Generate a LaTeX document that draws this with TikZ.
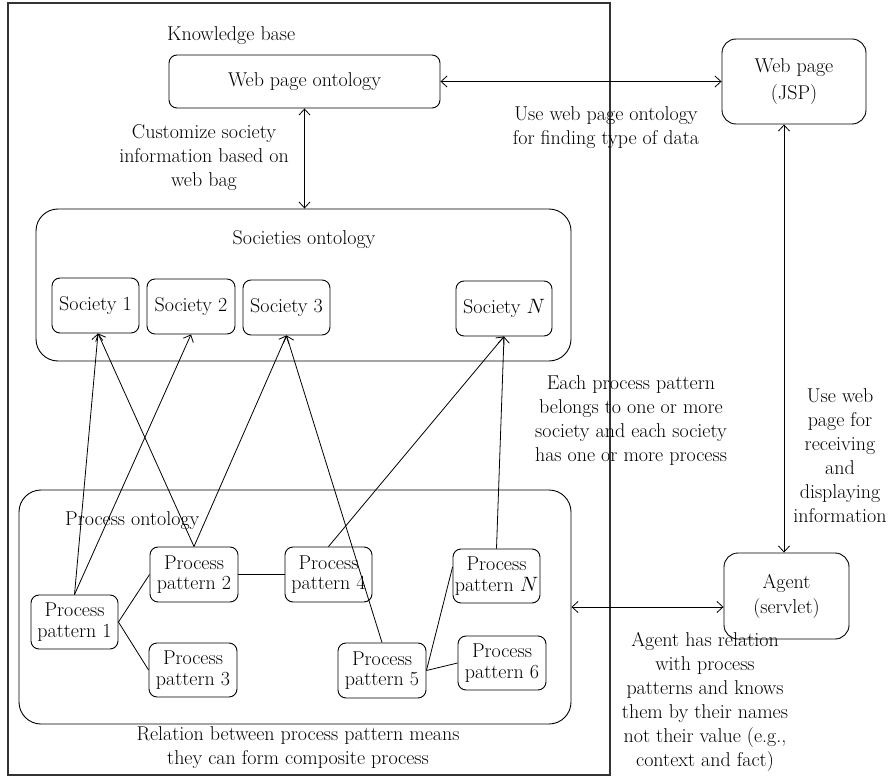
\documentclass[tikz,border=0pt]{standalone}
\usetikzlibrary{arrows.meta}
\begin{document}
\begin{tikzpicture}[x=1pt, y=-1pt, font=\fontsize{20}{24}\selectfont,
		box/.style={draw, line width=0.9pt, rounded corners=8pt, align=center, inner sep=0pt,
			font=\fontsize{20}{20.5}\selectfont},
		bigbox/.style={draw, line width=0.9pt, rounded corners=22pt, inner sep=0pt},
		note/.style={align=center, inner sep=0pt},
		link/.style={line width=0.8pt},
		rel/.style={line width=0.8pt, -{Straight Barb[length=6pt, width=11pt]}},
		both/.style={line width=0.8pt, {Straight Barb[length=6pt, width=11pt]}-{Straight Barb[length=6pt, width=11pt]}}]
		\useasboundingbox (0,0) rectangle (894,778);
		
		% knowledge base frame
		\draw[line width=1.2pt, black!80] (8,3) rectangle (610,775);
		\node[note, anchor=west] (kb) at (167,36) {Knowledge base};
		
		% ontology boxes
		\node[box, minimum width=271, minimum height=53] (wpo) at (304.5,81.5) {Web page ontology};
		\node[bigbox, minimum width=535, minimum height=152] (soc) at (303.5,285) {};
		\node[bigbox, minimum width=552, minimum height=234] (proc) at (295,607) {};
		\node[note] (soctitle) at (304,240) {Societies ontology};
		\node[note, anchor=west] (proctitle) at (65,521) {Process ontology};
		
		% web page and agent
		\node[box, rounded corners=14pt, minimum width=144, minimum height=85,
			font=\fontsize{20}{27}\selectfont] (jsp) at (794,81.5) {Web page\\(JSP)};
		\node[box, rounded corners=14pt, minimum width=125, minimum height=86,
			font=\fontsize{20}{25}\selectfont] (agent) at (786.5,596) {Agent\\(servlet)};
		
		% societies
		\node[box, minimum width=87, minimum height=55] (soc1) at (95.5,305.5) {Society 1};
		\node[box, minimum width=88, minimum height=55] (soc2) at (191,306.5) {Society 2};
		\node[box, minimum width=87, minimum height=55] (soc3) at (286.5,307.5) {Society 3};
		\node[box, minimum width=96, minimum height=55] (socN) at (504,308.5) {Society $N$};
		
		% process patterns
		\node[box, minimum width=87, minimum height=54] (pp1) at (74.5,622) {Process\\pattern 1};
		\node[box, minimum width=88, minimum height=55] (pp2) at (194,574.5) {Process\\pattern 2};
		\node[box, minimum width=88, minimum height=54] (pp3) at (193,670) {Process\\pattern 3};
		\node[box, minimum width=87, minimum height=55] (pp4) at (328.5,574.5) {Process\\pattern 4};
		\node[box, minimum width=88, minimum height=55] (pp5) at (382,670.5) {Process\\pattern 5};
		\node[box, minimum width=88, minimum height=54] (pp6) at (502,663) {Process\\pattern 6};
		\node[box, minimum width=87, minimum height=54] (ppN) at (496.5,576) {Process\\pattern $N$};
		
		% labels
		\node[note] (custom) at (204,158) {Customize society\\information based on\\web bag};
		\node[note] (finding) at (606,128) {Use web page ontology\\for finding type of data};
		\node[note] (belongs) at (631,421) {Each process pattern\\belongs to one or more\\society and each society\\has one or more process};
		\node[note] (display) at (840,456) {Use web\\page for\\receiving\\and\\displaying\\information};
		\node[note] (agentnote) at (705,702) {Agent has relation\\with process\\patterns and knows\\them by their names\\not their value (e.g.,\\context and fact)};
		\node[note] (composite) at (298,748) {Relation between process pattern means\\they can form composite process};
		
		% two way arrows
		\draw[both] (wpo.east) -- (jsp.west);
		\draw[both] (wpo.south) -- (soc.north -| wpo.south);
		\draw[both] ([xshift=-10pt]jsp.south) -- ([xshift=-2.5pt]agent.north);
		\draw[both] (proc.east) -- (proc.east -| agent.west);
		
		% process pattern to society
		\draw[rel] (pp1.north) -- ([xshift=2.5pt]soc1.south);
		\draw[rel] (pp1.north) -- (soc2.south);
		\draw[rel] (pp2.north) -- ([xshift=2.5pt]soc1.south);
		\draw[rel] (pp2.north) -- (soc3.south);
		\draw[rel] (pp4.north) -- (socN.south);
		\draw[rel] (pp5.north) -- (soc3.south);
		\draw[rel] (ppN.north) -- (socN.south);
		
		% relations between process patterns
		\draw[link] (pp1.east) -- (pp2.west);
		\draw[link] (pp1.east) -- (pp3.west);
		\draw[link] (pp2.east) -- (pp4.west);
		\draw[link] (pp5.east) -- ([yshift=9pt]ppN.west);
		\draw[link] (pp5.east) -- (pp6.west);
	\end{tikzpicture}
\end{document}
